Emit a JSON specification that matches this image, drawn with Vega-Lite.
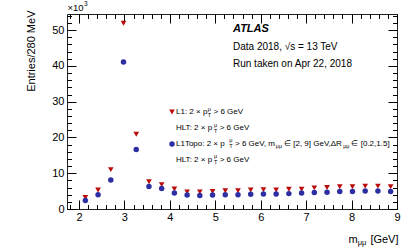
{
  "$schema": "https://vega.github.io/schema/vega-lite/v6.json",
  "width": 330,
  "height": 195,
  "autosize": {"type": "none"},
  "padding": {"left": 67, "top": 14, "right": 21, "bottom": 40},
  "background": "white",
  "config": {
    "view": {"stroke": "#222", "strokeWidth": 1},
    "font": "Liberation Sans",
    "axis": {
      "grid": false, "domain": false, "tickColor": "#000", "tickWidth": 1,
      "labelFont": "Liberation Sans", "titleFont": "Liberation Sans",
      "labelColor": "#000", "titleColor": "#000", "titleFontWeight": "normal",
      "labelFontSize": 11, "titleFontSize": 11, "labelOverlap": false, "labelFlush": false,
      "labelBound": false
    }
  },
  "data": {"values": [
    {"m": 2.14, "trig": "L1", "n": 3200}, {"m": 2.42, "trig": "L1", "n": 5300}, {"m": 2.70, "trig": "L1", "n": 11000},
    {"m": 2.98, "trig": "L1", "n": 51900}, {"m": 3.26, "trig": "L1", "n": 20900}, {"m": 3.54, "trig": "L1", "n": 7600},
    {"m": 3.82, "trig": "L1", "n": 6800}, {"m": 4.10, "trig": "L1", "n": 5600}, {"m": 4.38, "trig": "L1", "n": 4800},
    {"m": 4.66, "trig": "L1", "n": 4800}, {"m": 4.94, "trig": "L1", "n": 4900}, {"m": 5.22, "trig": "L1", "n": 5100},
    {"m": 5.50, "trig": "L1", "n": 5100}, {"m": 5.78, "trig": "L1", "n": 5300}, {"m": 6.06, "trig": "L1", "n": 5400},
    {"m": 6.34, "trig": "L1", "n": 5300}, {"m": 6.62, "trig": "L1", "n": 5500}, {"m": 6.90, "trig": "L1", "n": 5500},
    {"m": 7.18, "trig": "L1", "n": 5900}, {"m": 7.46, "trig": "L1", "n": 6000}, {"m": 7.74, "trig": "L1", "n": 6200},
    {"m": 8.02, "trig": "L1", "n": 6200}, {"m": 8.30, "trig": "L1", "n": 6400}, {"m": 8.58, "trig": "L1", "n": 6400},
    {"m": 8.86, "trig": "L1", "n": 6200},
    {"m": 2.14, "trig": "L1Topo", "n": 2400}, {"m": 2.42, "trig": "L1Topo", "n": 4000}, {"m": 2.70, "trig": "L1Topo", "n": 8100},
    {"m": 2.98, "trig": "L1Topo", "n": 41100}, {"m": 3.26, "trig": "L1Topo", "n": 16600}, {"m": 3.54, "trig": "L1Topo", "n": 6300},
    {"m": 3.82, "trig": "L1Topo", "n": 5700}, {"m": 4.10, "trig": "L1Topo", "n": 4500}, {"m": 4.38, "trig": "L1Topo", "n": 3900},
    {"m": 4.66, "trig": "L1Topo", "n": 3800}, {"m": 4.94, "trig": "L1Topo", "n": 3900}, {"m": 5.22, "trig": "L1Topo", "n": 4000},
    {"m": 5.50, "trig": "L1Topo", "n": 4000}, {"m": 5.78, "trig": "L1Topo", "n": 4100}, {"m": 6.06, "trig": "L1Topo", "n": 4200},
    {"m": 6.34, "trig": "L1Topo", "n": 4200}, {"m": 6.62, "trig": "L1Topo", "n": 4300}, {"m": 6.90, "trig": "L1Topo", "n": 4500},
    {"m": 7.18, "trig": "L1Topo", "n": 4600}, {"m": 7.46, "trig": "L1Topo", "n": 4700}, {"m": 7.74, "trig": "L1Topo", "n": 4900},
    {"m": 8.02, "trig": "L1Topo", "n": 4900}, {"m": 8.30, "trig": "L1Topo", "n": 5000}, {"m": 8.58, "trig": "L1Topo", "n": 5000},
    {"m": 8.86, "trig": "L1Topo", "n": 4900}
  ]},
  "resolve": {"axis": {"x": "independent", "y": "independent"}},
  "layer": [
    {
      "transform": [{"filter": "datum.trig === 'L1'"}],
      "mark": {"type": "point", "shape": "triangle-down", "filled": true, "color": "#bb0a0a", "size": 32, "opacity": 1},
      "encoding": {
        "x": {"field": "m", "type": "quantitative", "scale": {"domain": [1.736, 9], "nice": false, "zero": false},
          "axis": {"orient": "bottom", "values": [2, 3, 4, 5, 6, 7, 8, 9], "tickSize": -9, "labelPadding": 11,
            "title": "[GeV]", "titleAlign": "right", "titleBaseline": "middle", "titleX": 331, "titleY": 30}},
        "y": {"field": "n", "type": "quantitative", "scale": {"domain": [0, 54500], "nice": false, "zero": true},
          "axis": {"orient": "left", "values": [0, 10000, 20000, 30000, 40000, 50000], "tickSize": -9, "labelPadding": 12,
            "labelExpr": "format(datum.value / 1000, 'd')",
            "title": "Entries/280 MeV", "titleAngle": 270, "titleAlign": "right", "titleBaseline": "middle", "titleX": -36, "titleY": -4}}
      }
    },
    {
      "transform": [{"filter": "datum.trig === 'L1Topo'"}],
      "mark": {"type": "point", "shape": "circle", "filled": true, "color": "#2e2ea3", "size": 30, "opacity": 1},
      "encoding": {
        "x": {"field": "m", "type": "quantitative",
          "axis": {"orient": "bottom", "values": [1.8, 2.0, 2.2, 2.4, 2.6, 2.8, 3.0, 3.2, 3.4, 3.6, 3.8, 4.0, 4.2, 4.4, 4.6, 4.8, 5.0, 5.2, 5.4, 5.6, 5.8, 6.0, 6.2, 6.4, 6.6, 6.8, 7.0, 7.2, 7.4, 7.6, 7.8, 8.0, 8.2, 8.4, 8.6, 8.8, 9.0],
            "tickSize": -4.5, "labels": false,
            "title": "m", "titleAlign": "left", "titleBaseline": "middle", "titleX": 281, "titleY": 30}},
        "y": {"field": "n", "type": "quantitative",
          "axis": {"orient": "left", "values": [0, 2000, 4000, 6000, 8000, 10000, 12000, 14000, 16000, 18000, 20000, 22000, 24000, 26000, 28000, 30000, 32000, 34000, 36000, 38000, 40000, 42000, 44000, 46000, 48000, 50000, 52000, 54000],
            "tickSize": -4.5, "labels": false,
            "title": "×10", "titleAngle": 0, "titleFontSize": 9.5, "titleAlign": "left", "titleBaseline": "middle", "titleX": 0, "titleY": -7}}
      }
    },
    {
      "data": {"values": [{}]},
      "mark": {"type": "point", "shape": "triangle-down", "filled": true, "color": "#bb0a0a", "size": 32, "opacity": 1},
      "encoding": {
        "x": {"datum": 4.047, "type": "quantitative",
          "axis": {"orient": "top", "values": [2, 3, 4, 5, 6, 7, 8, 9], "tickSize": -9, "labels": false,
            "title": "μμ", "titleFontSize": 7.5, "titleAlign": "left", "titleBaseline": "middle", "titleX": 290.3, "titleY": 228}},
        "y": {"datum": 27110, "type": "quantitative",
          "axis": {"orient": "right", "values": [0, 10000, 20000, 30000, 40000, 50000], "tickSize": -9, "labels": false,
            "title": "3", "titleAngle": 0, "titleFontSize": 6.5, "titleAlign": "left", "titleBaseline": "middle", "titleX": -313.5, "titleY": -11}}
      }
    },
    {
      "data": {"values": [{}]},
      "mark": {"type": "point", "shape": "circle", "filled": true, "color": "#2e2ea3", "size": 30, "opacity": 1},
      "encoding": {
        "x": {"datum": 4.047, "type": "quantitative",
          "axis": {"orient": "top", "values": [1.8, 2.0, 2.2, 2.4, 2.6, 2.8, 3.0, 3.2, 3.4, 3.6, 3.8, 4.0, 4.2, 4.4, 4.6, 4.8, 5.0, 5.2, 5.4, 5.6, 5.8, 6.0, 6.2, 6.4, 6.6, 6.8, 7.0, 7.2, 7.4, 7.6, 7.8, 8.0, 8.2, 8.4, 8.6, 8.8, 9.0],
            "tickSize": -4.5, "labels": false, "title": null}},
        "y": {"datum": 18167, "type": "quantitative",
          "axis": {"orient": "right", "values": [0, 2000, 4000, 6000, 8000, 10000, 12000, 14000, 16000, 18000, 20000, 22000, 24000, 26000, 28000, 30000, 32000, 34000, 36000, 38000, 40000, 42000, 44000, 46000, 48000, 50000, 52000, 54000],
            "tickSize": -4.5, "labels": false, "title": null}}
      }
    },
    {
      "data": {"values": [{}]},
      "mark": {"type": "text", "text": "ATLAS", "align": "left", "baseline": "middle", "fontSize": 11, "fontWeight": "bold", "fontStyle": "italic", "color": "#000"},
      "encoding": {"x": {"datum": 5.39, "type": "quantitative", "axis": null}, "y": {"datum": 50308, "type": "quantitative", "axis": null}}
    },
    {
      "data": {"values": [{}]},
      "mark": {"type": "text", "text": "Data 2018, √s = 13 TeV", "align": "left", "baseline": "middle", "fontSize": 10, "color": "#000"},
      "encoding": {"x": {"datum": 5.39, "type": "quantitative", "axis": null}, "y": {"datum": 45277, "type": "quantitative", "axis": null}}
    },
    {
      "data": {"values": [{}]},
      "mark": {"type": "text", "text": "Run taken on Apr 22, 2018", "align": "left", "baseline": "middle", "fontSize": 10, "color": "#000"},
      "encoding": {"x": {"datum": 5.39, "type": "quantitative", "axis": null}, "y": {"datum": 40526, "type": "quantitative", "axis": null}}
    },
    {
      "data": {"values": [{}]},
      "mark": {"type": "text", "text": "L1: 2 × p", "align": "left", "baseline": "middle", "fontSize": 8, "color": "#000"},
      "encoding": {"x": {"datum": 4.135, "type": "quantitative", "axis": null}, "y": {"datum": 27110, "type": "quantitative", "axis": null}}
    },
    {
      "data": {"values": [{}]},
      "mark": {"type": "text", "text": "μ", "align": "left", "baseline": "middle", "fontSize": 5.5, "dx": 31.8, "dy": -3.5, "color": "#000"},
      "encoding": {"x": {"datum": 4.135, "type": "quantitative", "axis": null}, "y": {"datum": 27110, "type": "quantitative", "axis": null}}
    },
    {
      "data": {"values": [{}]},
      "mark": {"type": "text", "text": "T", "align": "left", "baseline": "middle", "fontSize": 5.5, "dx": 31.8, "dy": 2.5, "color": "#000"},
      "encoding": {"x": {"datum": 4.135, "type": "quantitative", "axis": null}, "y": {"datum": 27110, "type": "quantitative", "axis": null}}
    },
    {
      "data": {"values": [{}]},
      "mark": {"type": "text", "text": "> 6 GeV", "align": "left", "baseline": "middle", "fontSize": 8, "dx": 37.5, "color": "#000"},
      "encoding": {"x": {"datum": 4.135, "type": "quantitative", "axis": null}, "y": {"datum": 27110, "type": "quantitative", "axis": null}}
    },
    {
      "data": {"values": [{}]},
      "mark": {"type": "text", "text": "HLT: 2 × p", "align": "left", "baseline": "middle", "fontSize": 8, "color": "#000"},
      "encoding": {"x": {"datum": 4.135, "type": "quantitative", "axis": null}, "y": {"datum": 22499, "type": "quantitative", "axis": null}}
    },
    {
      "data": {"values": [{}]},
      "mark": {"type": "text", "text": "μ", "align": "left", "baseline": "middle", "fontSize": 5.5, "dx": 38, "dy": -3.5, "color": "#000"},
      "encoding": {"x": {"datum": 4.135, "type": "quantitative", "axis": null}, "y": {"datum": 22499, "type": "quantitative", "axis": null}}
    },
    {
      "data": {"values": [{}]},
      "mark": {"type": "text", "text": "T", "align": "left", "baseline": "middle", "fontSize": 5.5, "dx": 38, "dy": 2.5, "color": "#000"},
      "encoding": {"x": {"datum": 4.135, "type": "quantitative", "axis": null}, "y": {"datum": 22499, "type": "quantitative", "axis": null}}
    },
    {
      "data": {"values": [{}]},
      "mark": {"type": "text", "text": "> 6 GeV", "align": "left", "baseline": "middle", "fontSize": 8, "dx": 43.7, "color": "#000"},
      "encoding": {"x": {"datum": 4.135, "type": "quantitative", "axis": null}, "y": {"datum": 22499, "type": "quantitative", "axis": null}}
    },
    {
      "data": {"values": [{}]},
      "mark": {"type": "text", "text": "L1Topo: 2 × p", "align": "left", "baseline": "middle", "fontSize": 8, "color": "#000"},
      "encoding": {"x": {"datum": 4.135, "type": "quantitative", "axis": null}, "y": {"datum": 18167, "type": "quantitative", "axis": null}}
    },
    {
      "data": {"values": [{}]},
      "mark": {"type": "text", "text": "μ", "align": "left", "baseline": "middle", "fontSize": 5.5, "dx": 53.2, "dy": -3.5, "color": "#000"},
      "encoding": {"x": {"datum": 4.135, "type": "quantitative", "axis": null}, "y": {"datum": 18167, "type": "quantitative", "axis": null}}
    },
    {
      "data": {"values": [{}]},
      "mark": {"type": "text", "text": "T", "align": "left", "baseline": "middle", "fontSize": 5.5, "dx": 53.2, "dy": 2.5, "color": "#000"},
      "encoding": {"x": {"datum": 4.135, "type": "quantitative", "axis": null}, "y": {"datum": 18167, "type": "quantitative", "axis": null}}
    },
    {
      "data": {"values": [{}]},
      "mark": {"type": "text", "text": "> 6 GeV, m", "align": "left", "baseline": "middle", "fontSize": 8, "dx": 59, "color": "#000"},
      "encoding": {"x": {"datum": 4.135, "type": "quantitative", "axis": null}, "y": {"datum": 18167, "type": "quantitative", "axis": null}}
    },
    {
      "data": {"values": [{}]},
      "mark": {"type": "text", "text": "μμ", "align": "left", "baseline": "middle", "fontSize": 5.5, "dx": 99.8, "dy": 2.5, "color": "#000"},
      "encoding": {"x": {"datum": 4.135, "type": "quantitative", "axis": null}, "y": {"datum": 18167, "type": "quantitative", "axis": null}}
    },
    {
      "data": {"values": [{}]},
      "mark": {"type": "text", "text": "∈ [2, 9] GeV,ΔR", "align": "left", "baseline": "middle", "fontSize": 8, "dx": 108, "color": "#000"},
      "encoding": {"x": {"datum": 4.135, "type": "quantitative", "axis": null}, "y": {"datum": 18167, "type": "quantitative", "axis": null}}
    },
    {
      "data": {"values": [{}]},
      "mark": {"type": "text", "text": "μμ", "align": "left", "baseline": "middle", "fontSize": 5.5, "dx": 167.2, "dy": 2.5, "color": "#000"},
      "encoding": {"x": {"datum": 4.135, "type": "quantitative", "axis": null}, "y": {"datum": 18167, "type": "quantitative", "axis": null}}
    },
    {
      "data": {"values": [{}]},
      "mark": {"type": "text", "text": "∈ [0.2,1.5]", "align": "left", "baseline": "middle", "fontSize": 8, "dx": 175.5, "color": "#000"},
      "encoding": {"x": {"datum": 4.135, "type": "quantitative", "axis": null}, "y": {"datum": 18167, "type": "quantitative", "axis": null}}
    },
    {
      "data": {"values": [{}]},
      "mark": {"type": "text", "text": "HLT: 2 × p", "align": "left", "baseline": "middle", "fontSize": 8, "color": "#000"},
      "encoding": {"x": {"datum": 4.135, "type": "quantitative", "axis": null}, "y": {"datum": 13695, "type": "quantitative", "axis": null}}
    },
    {
      "data": {"values": [{}]},
      "mark": {"type": "text", "text": "μ", "align": "left", "baseline": "middle", "fontSize": 5.5, "dx": 38, "dy": -3.5, "color": "#000"},
      "encoding": {"x": {"datum": 4.135, "type": "quantitative", "axis": null}, "y": {"datum": 13695, "type": "quantitative", "axis": null}}
    },
    {
      "data": {"values": [{}]},
      "mark": {"type": "text", "text": "T", "align": "left", "baseline": "middle", "fontSize": 5.5, "dx": 38, "dy": 2.5, "color": "#000"},
      "encoding": {"x": {"datum": 4.135, "type": "quantitative", "axis": null}, "y": {"datum": 13695, "type": "quantitative", "axis": null}}
    },
    {
      "data": {"values": [{}]},
      "mark": {"type": "text", "text": "> 6 GeV", "align": "left", "baseline": "middle", "fontSize": 8, "dx": 43.7, "color": "#000"},
      "encoding": {"x": {"datum": 4.135, "type": "quantitative", "axis": null}, "y": {"datum": 13695, "type": "quantitative", "axis": null}}
    }
  ]
}
